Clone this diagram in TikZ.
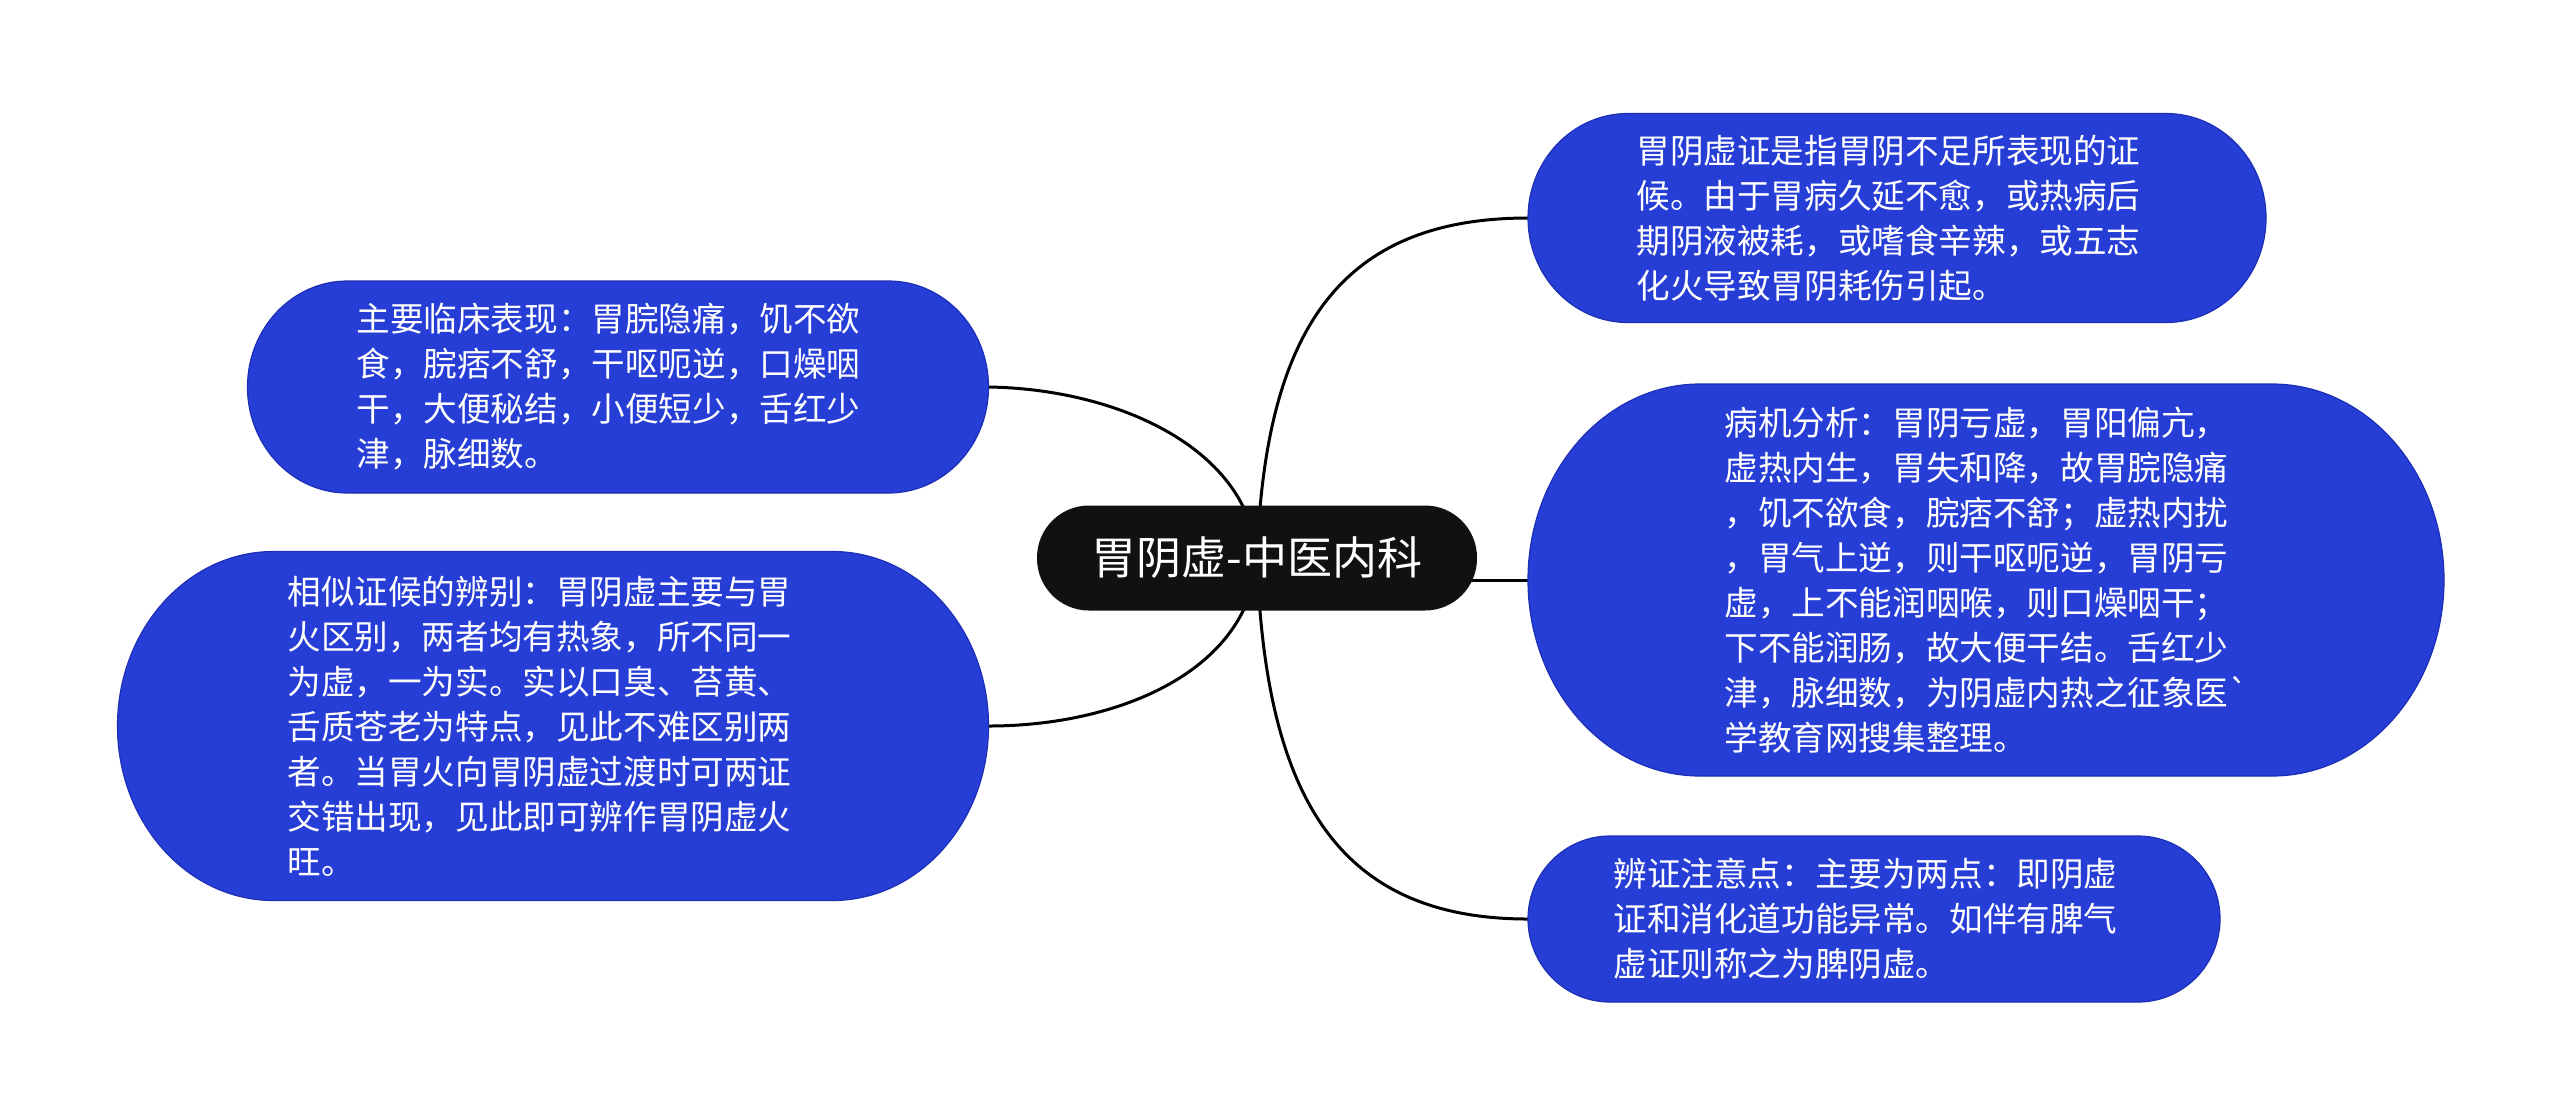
\documentclass[tikz,border=0pt]{standalone}
\usepackage{fontspec}
\newfontfamily\cjk{Noto Sans CJK SC}
\usetikzlibrary{backgrounds,calc}
\pgfdeclarelayer{bottom}
\pgfsetlayers{bottom,background,main}
\definecolor{boxblue}{RGB}{38,62,214}
\definecolor{boxedge}{RGB}{28,46,180}
\definecolor{rootblack}{RGB}{17,17,17}
\newcommand\blobshape[2]{%
  \path[fill=boxblue,draw=boxedge,line width=0.6pt] let \p1=(#1.north west), \p2=(#1.south east) in
    (\x1+#2,\y1) -- (\x2-#2,\y1)
    arc[start angle=90,end angle=-90,x radius=#2,y radius={(\y1-\y2)/2}]
    -- (\x1+#2,\y2)
    arc[start angle=270,end angle=90,x radius=#2,y radius={(\y1-\y2)/2}]
    -- cycle;}
\begin{document}
\begin{tikzpicture}[x=0.5pt,y=-0.5pt,
  boxframe/.style={inner sep=0pt,outer sep=0pt,draw=none},
  boxtext/.style={anchor=west,inner sep=0pt,align=left,text=white,
    font={\cjk\fontsize{16.8pt}{22.5pt}\selectfont}},
  rootnode/.style={fill=rootblack,text=white,rounded corners=26pt,
    minimum width=220pt,minimum height=52.5pt,inner sep=0pt,
    font={\cjk\fontsize{22.5pt}{27pt}\selectfont}},
  link/.style={line width=1.5pt,black}]
\useasboundingbox (0,0) rectangle (2560,1116);
\begin{pgfonlayer}{bottom}
\fill[white] (0,0) rectangle (2560,1116);
\end{pgfonlayer}

% frames of the branch boxes
\node[boxframe,minimum width=369pt,minimum height=104.5pt] (b1) at (1897,218) {};
\node[boxframe,minimum width=458pt,minimum height=196pt] (b2) at (1986,580) {};
\node[boxframe,minimum width=346pt,minimum height=83pt] (b3) at (1874,919) {};
\node[boxframe,minimum width=370.5pt,minimum height=106pt] (l1) at (618,387) {};
\node[boxframe,minimum width=435.5pt,minimum height=174.5pt] (l2) at (553,726) {};

% root
\node[rootnode] (c) at (1257,558) {胃阴虚-中医内科};

\begin{scope}[on background layer]
  \draw[link] (c.center) .. controls (1265,330) and (1340,218) .. (b1.west);
  \draw[link] (c.center |- b2.west) -- (b2.west);
  \draw[link] (c.center) .. controls (1265,800) and (1340,919) .. (b3.west);
  \draw[link] (c.center) .. controls (1250,450) and (1120,389) .. (l1.east);
  \draw[link] (c.center) .. controls (1250,670) and (1120,726) .. (l2.east);
  \blobshape{b1}{50pt}
  \blobshape{b2}{86pt}
  \blobshape{b3}{41pt}
  \blobshape{l1}{50pt}
  \blobshape{l2}{78pt}
\end{scope}

\node[boxtext] (t1) at (1636,218) {胃阴虚证是指胃阴不足所表现的证\\候。由于胃病久延不愈，或热病后\\期阴液被耗，或嗜食辛辣，或五志\\化火导致胃阴耗伤引起。};
\node[boxtext] (t2) at (1724,580) {病机分析：胃阴亏虚，胃阳偏亢，\\虚热内生，胃失和降，故胃脘隐痛\\，饥不欲食，脘痞不舒；虚热内扰\\，胃气上逆，则干呕呃逆，胃阴亏\\虚，上不能润咽喉，则口燥咽干；\\下不能润肠，故大便干结。舌红少\\津，脉细数，为阴虚内热之征象医`\\学教育网搜集整理。};
\node[boxtext] (t3) at (1613,919) {辨证注意点：主要为两点：即阴虚\\证和消化道功能异常。如伴有脾气\\虚证则称之为脾阴虚。};
\node[boxtext] (u1) at (356,387) {主要临床表现：胃脘隐痛，饥不欲\\食，脘痞不舒，干呕呃逆，口燥咽\\干，大便秘结，小便短少，舌红少\\津，脉细数。};
\node[boxtext] (u2) at (287,726) {相似证候的辨别：胃阴虚主要与胃\\火区别，两者均有热象，所不同一\\为虚，一为实。实以口臭、苔黄、\\舌质苍老为特点，见此不难区别两\\者。当胃火向胃阴虚过渡时可两证\\交错出现，见此即可辨作胃阴虚火\\旺。};
\end{tikzpicture}
\end{document}
